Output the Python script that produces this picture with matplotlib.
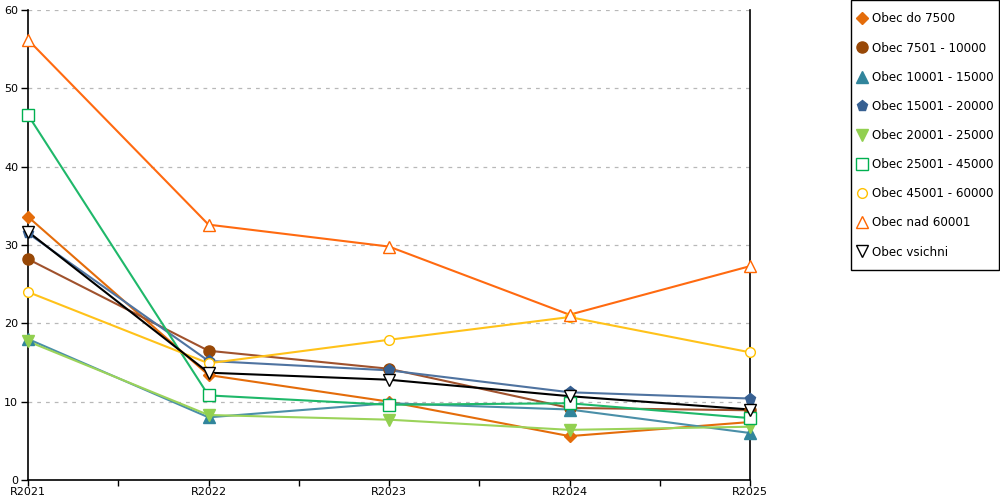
import matplotlib
matplotlib.use("Agg")
import matplotlib.pyplot as plt
from matplotlib.lines import Line2D
from matplotlib.patches import Rectangle

categories = ["R2021", "R2022", "R2023", "R2024", "R2025"]

series_names = [
    "Obec do 7500",
    "Obec 7501 - 10000",
    "Obec 10001 - 15000",
    "Obec 15001 - 20000",
    "Obec 20001 - 25000",
    "Obec 25001 - 45000",
    "Obec 45001 - 60000",
    "Obec nad 60001",
    "Obec vsichni",
]

do_7500 = [33.6, 13.4, 10.0, 5.6, 7.4]
o_7501_10000 = [28.2, 16.5, 14.2, 9.2, 8.9]
o_10001_15000 = [18.0, 8.0, 9.8, 9.0, 6.0]
o_15001_20000 = [31.5, 15.2, 14.0, 11.2, 10.4]
o_20001_25000 = [17.7, 8.3, 7.7, 6.4, 6.8]
o_25001_45000 = [46.6, 10.8, 9.6, 9.8, 7.9]
o_45001_60000 = [24.0, 14.9, 17.9, 20.8, 16.3]
nad_60001 = [56.2, 32.6, 29.8, 21.1, 27.3]
vsichni = [31.7, 13.7, 12.8, 10.7, 9.0]

values = [do_7500, o_7501_10000, o_10001_15000, o_15001_20000, o_20001_25000,
          o_25001_45000, o_45001_60000, nad_60001, vsichni]

colors = ["#e46c0a", "#984807", "#31859c", "#376092", "#92d050",
          "#00b050", "#ffc000", "#ff6600", "#000000"]
line_colors = ["#e46c0a", "#a0522d", "#4a8fa8", "#4f73a0", "#9bd35a",
               "#1fb86a", "#ffc21a", "#ff6a10", "#000000"]
markers = ["D", "o", "^", "p", "v", "s", "o", "^", "v"]
filled = [True, True, True, True, True, False, False, False, False]
msizes = [7, 9, 9, 9, 9, 9, 8, 9, 9]

plt.rcParams['font.family'] = ['DejaVu Sans']
fig = plt.figure(figsize=(10, 5), dpi=100)
ax = fig.add_axes([0.028, 0.04, 0.722, 0.94])

x = list(range(len(categories)))
handles = []
for i, name in enumerate(series_names):
    fc = colors[i] if filled[i] else "white"
    ax.plot(x, values[i], color=line_colors[i], lw=1.5, zorder=2)
    ax.plot(x, values[i], linestyle="none", marker=markers[i], ms=msizes[i] - 1,
            markerfacecolor=fc, markeredgecolor=colors[i], markeredgewidth=1.0,
            zorder=3, clip_on=False)
    handles.append(Line2D([], [], linestyle="none", marker=markers[i],
                          ms=msizes[i] - 1, markerfacecolor=fc,
                          markeredgecolor=colors[i], markeredgewidth=1.0,
                          label=name))

ax.set_xlim(0, len(categories) - 1)
ax.set_ylim(0, 60)
ax.set_yticks(range(0, 61, 10))
ax.set_xticks(x)
ax.set_xticklabels(categories)
ax.set_xticks([i + 0.5 for i in x[:-1]], minor=True)
ax.tick_params(axis="x", which="both", direction="out", length=4, width=1,
               labelsize=8, pad=1)
ax.tick_params(axis="y", direction="out", length=5, width=1, labelsize=8, pad=2)
ax.grid(axis="y", linestyle=(0, (3, 4)), color="#b8b8b8", lw=0.9)
ax.set_axisbelow(True)
ax.spines["top"].set_visible(False)
for s in ["left", "bottom", "right"]:
    ax.spines[s].set_linewidth(1.2)
    ax.spines[s].set_color("black")

# legend frame
fig.patches.append(Rectangle((0.851, 0.46), 0.148, 0.539,
                             transform=fig.transFigure, facecolor="white",
                             edgecolor="black", linewidth=1.0, zorder=0))

leg = fig.legend(handles=handles, loc="upper left",
                 bbox_to_anchor=(0.857, 0.975), frameon=False,
                 fontsize=8.6, handlelength=0.8,
                 handletextpad=0.45, labelspacing=1.35, borderpad=0,
                 borderaxespad=0)

fig.savefig("out.png", dpi=100)
